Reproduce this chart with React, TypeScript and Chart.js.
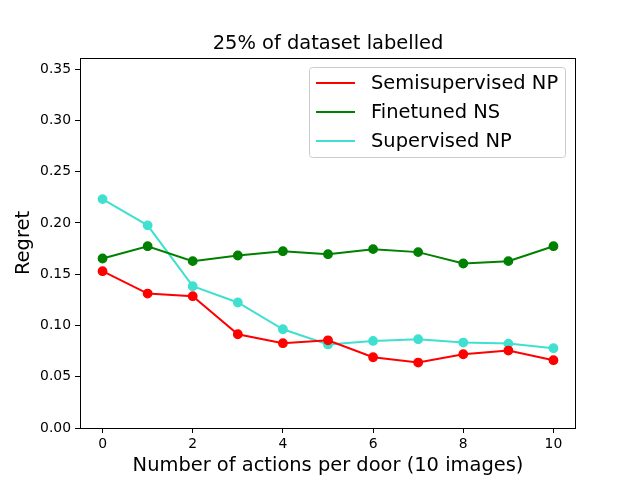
import React, { useEffect, useRef } from "react";
import { Chart, registerables } from "chart.js";

Chart.register(...registerables);

const xValues = [0, 1, 2, 3, 4, 5, 6, 7, 8, 9, 10];
const semisupervisedNP = [0.1529, 0.1311, 0.1285, 0.0914, 0.0827, 0.0855, 0.069, 0.0638, 0.0719, 0.0755, 0.0661];
const finetunedNS = [0.1653, 0.1773, 0.1627, 0.1682, 0.1724, 0.1695, 0.1744, 0.1715, 0.1604, 0.1627, 0.1773];
const supervisedNP = [0.2232, 0.1976, 0.1383, 0.1224, 0.0963, 0.0815, 0.0849, 0.0866, 0.0833, 0.0823, 0.0778];
const xTicks = [0, 2, 4, 6, 8, 10];
const yTicks = [0, 0.05, 0.1, 0.15, 0.2, 0.25, 0.3, 0.35];
const seriesNames = ["Semisupervised NP", "Finetuned NS", "Supervised NP"];
const seriesColors = ["#ff0000", "#008000", "#40e0d0"];
const titleText = "25% of dataset labelled";
const xLabel = "Number of actions per door (10 images)";
const yLabel = "Regret";

const FONT = "'DejaVu Sans', sans-serif";

const decorPlugin = {
  id: "decor",
  afterDraw(chart: any) {
    const { ctx, chartArea } = chart;
    const { left, right, top, bottom } = chartArea;
    ctx.save();
    // frame
    ctx.strokeStyle = "#000";
    ctx.lineWidth = 1;
    ctx.strokeRect(Math.round(left) + 0.5, Math.round(top) + 0.5, Math.round(right - left) - 1, Math.round(bottom - top));
    // title
    ctx.fillStyle = "#000";
    ctx.font = `19.44px ${FONT}`;
    ctx.textAlign = "center";
    ctx.textBaseline = "alphabetic";
    ctx.fillText(titleText, (left + right) / 2, 48.5);
    // x label
    ctx.fillText(xLabel, (left + right) / 2, 471);
    // y label
    ctx.save();
    ctx.translate(34, (top + bottom) / 2);
    ctx.rotate(-Math.PI / 2);
    ctx.textAlign = "center";
    ctx.textBaseline = "bottom";
    ctx.fillText(yLabel, 0, 0);
    ctx.restore();
    // legend
    const lx = 309.5, ly = 67.5, lw = 256, lh = 90, r = 3;
    ctx.beginPath();
    ctx.moveTo(lx + r, ly);
    ctx.lineTo(lx + lw - r, ly);
    ctx.quadraticCurveTo(lx + lw, ly, lx + lw, ly + r);
    ctx.lineTo(lx + lw, ly + lh - r);
    ctx.quadraticCurveTo(lx + lw, ly + lh, lx + lw - r, ly + lh);
    ctx.lineTo(lx + r, ly + lh);
    ctx.quadraticCurveTo(lx, ly + lh, lx, ly + lh - r);
    ctx.lineTo(lx, ly + r);
    ctx.quadraticCurveTo(lx, ly, lx + r, ly);
    ctx.closePath();
    ctx.fillStyle = "rgba(255,255,255,0.8)";
    ctx.fill();
    ctx.strokeStyle = "#cccccc";
    ctx.lineWidth = 1;
    ctx.stroke();
    const rows = [83, 112, 141];
    chart.data.datasets.forEach((ds: any, i: number) => {
      ctx.strokeStyle = ds.borderColor;
      ctx.lineWidth = 2;
      ctx.beginPath();
      ctx.moveTo(316, rows[i]);
      ctx.lineTo(355, rows[i]);
      ctx.stroke();
      ctx.fillStyle = "#000";
      ctx.font = `19.44px ${FONT}`;
      ctx.textAlign = "left";
      ctx.textBaseline = "middle";
      ctx.fillText(ds.label, 371, rows[i] + 1);
    });
    ctx.restore();
  },
};

export default function App() {
  const ref = useRef<HTMLCanvasElement | null>(null);
  useEffect(() => {
    document.body.style.margin = "0";
    if (!ref.current) return;
    const seriesData = [semisupervisedNP, finetunedNS, supervisedNP];
    const chart = new Chart(ref.current, {
      type: "line",
      data: {
        datasets: seriesData.map((vals, i) => ({
          label: seriesNames[i],
          data: xValues.map((x, j) => ({ x, y: vals[j] })),
          borderColor: seriesColors[i],
          backgroundColor: seriesColors[i],
          pointBackgroundColor: seriesColors[i],
          pointBorderColor: seriesColors[i],
          pointBorderWidth: 1.4,
          pointRadius: 4.2,
          borderWidth: 2,
          tension: 0,
          fill: false,
        })),
      },
      options: {
        responsive: false,
        animation: false,
        events: [],
        layout: { padding: { top: 58, right: 64, left: 0, bottom: 0 } },
        plugins: { legend: { display: false }, title: { display: false }, tooltip: { enabled: false } },
        scales: {
          x: {
            type: "linear",
            min: -0.5,
            max: 10.5,
            afterFit: (s: any) => { s.height = 52; },
            afterBuildTicks: (s: any) => { s.ticks = xTicks.map((v) => ({ value: v })); },
            grid: { display: true, drawOnChartArea: false, drawTicks: true, tickLength: 5, tickColor: "#000", tickWidth: 1 },
            border: { display: false },
            ticks: { color: "#000", font: { family: FONT, size: 13.9 }, padding: 3, maxRotation: 0, callback: (v: any) => String(v) },
          },
          y: {
            type: "linear",
            min: 0,
            max: 0.3608,
            afterFit: (s: any) => { s.width = 80; },
            afterBuildTicks: (s: any) => { s.ticks = yTicks.map((v) => ({ value: v })); },
            grid: { display: true, drawOnChartArea: false, drawTicks: true, tickLength: 5, tickColor: "#000", tickWidth: 1 },
            border: { display: false },
            ticks: { color: "#000", font: { family: FONT, size: 13.9 }, padding: 4, callback: (v: any) => Number(v).toFixed(2) },
          },
        },
      },
      plugins: [decorPlugin],
    });
    return () => chart.destroy();
  }, []);
  return (
    <div style={{ position: "absolute", left: 0, top: 0, width: 640, height: 480 }}>
      <canvas ref={ref} width={640} height={480} />
    </div>
  );
}
